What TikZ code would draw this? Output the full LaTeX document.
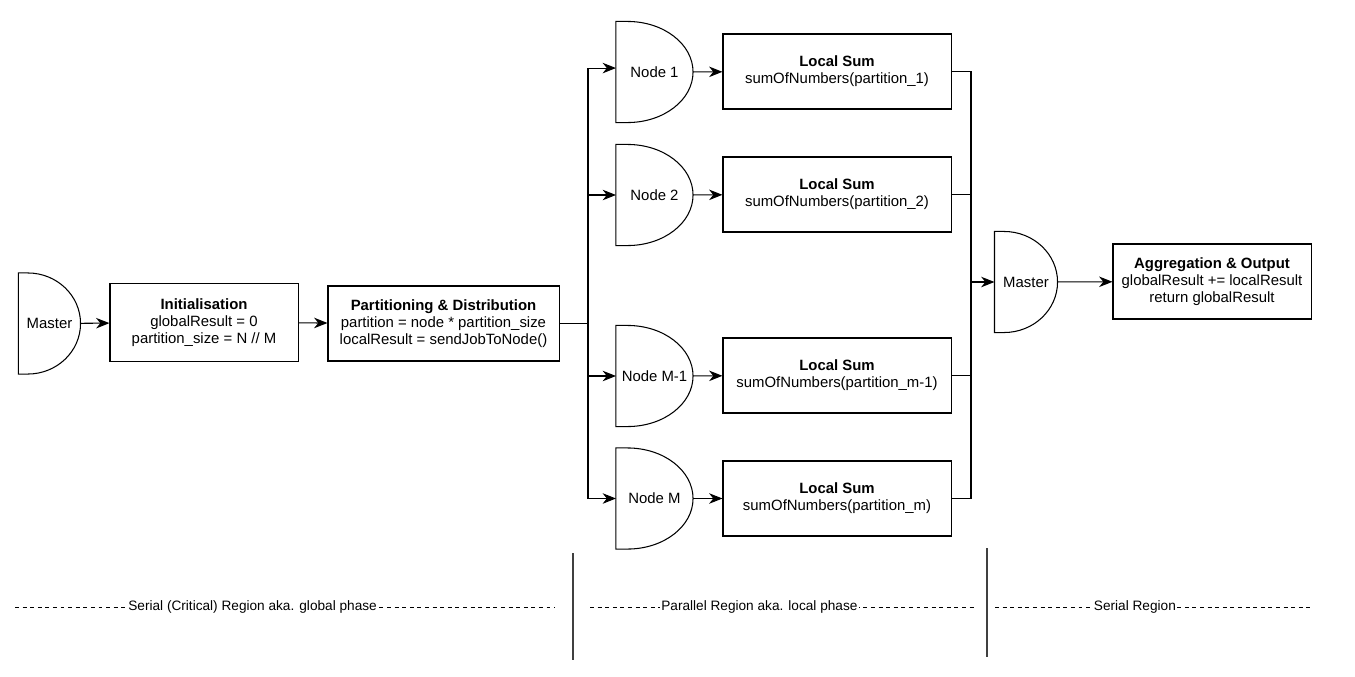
\documentclass[tikz,border=0pt]{standalone}
\usepackage{fontspec}
\setmainfont{Liberation Sans}
\usepackage{tikz}
\usetikzlibrary{calc,positioning,arrows.meta}

\begin{document}
\begin{tikzpicture}[x=0.025cm, y=-0.025cm, line width=0.75pt, font=\fontsize{10.6}{11.9}\selectfont]
\tikzstyle{gt}=[rectangle, inner sep=0pt, minimum width=1.9cm, minimum height=2.5cm]
\tikzstyle{box}=[rectangle, draw, align=center, inner sep=2pt,
                 minimum width=5.7cm, minimum height=1.875cm]
\tikzstyle{arr}=[-{Stealth[length=9.5pt,width=7.5pt,inset=3pt]}]
\tikzstyle{phase}=[dash pattern=on 2.8pt off 2.6pt, line width=0.4pt]
\tikzstyle{tag}=[pos=0.44, fill=white, inner sep=1pt, font=\fontsize{9.7}{11}\selectfont]
\tikzstyle{sep}=[line width=1pt, black!75]
\useasboundingbox (0,0) rectangle (1355,677);

% serial part
\node[gt, minimum width=1.525cm] (M) at (49.5,323.5) {Master};
\node[box, minimum width=4.7cm, minimum height=1.95cm] (I) at (204,322.5)
  {\textbf{Initialisation}\\globalResult = 0\\partition\_size = N // M};
\node[box, minimum width=5.775cm] (P) at (443.5,323.5)
  {\textbf{Partitioning \& Distribution}\\partition = node * partition\_size\\localResult = sendJobToNode()};

% workers
\node[gt] (N1) at (654.5,72) {Node 1};
\node[gt] (N2) at (654.5,195) {Node 2};
\node[gt] (N3) at (654.5,376) {Node M-1};
\node[gt] (N4) at (654.5,498.5) {Node M};
\node[box] (L1) at (837,71.5) {\textbf{Local Sum}\\sumOfNumbers(partition\_1)};
\node[box] (L2) at (837,194.5) {\textbf{Local Sum}\\sumOfNumbers(partition\_2)};
\node[box] (L3) at (837,375.5) {\textbf{Local Sum}\\sumOfNumbers(partition\_m-1)};
\node[box] (L4) at (837,498.5) {\textbf{Local Sum}\\sumOfNumbers(partition\_m)};

% aggregation
\node[gt, minimum width=1.55cm] (M2) at (1026,282) {Master};
\node[box, minimum width=4.95cm] (A) at (1212,281.5)
  {\textbf{Aggregation \& Output}\\globalResult += localResult\\return globalResult};

% gate outlines
\foreach \g in {M,N1,N2,N3,N4,M2}{
  \draw let \p1=(\g.north west), \p2=(\g.south east) in
    (\g.south west) -- (\p1) -- ++({0.15*(\x2-\x1)},0)
    arc[start angle=90, end angle=-90, x radius={0.85*(\x2-\x1)}, y radius={0.5*(\y1-\y2)}] -- cycle;
}

\coordinate (split) at (588,323.5);
\coordinate (join) at (971,282);
\foreach \i/\j in {M/I,I/P,N1/L1,N2/L2,N3/L3,N4/L4,M2/A}{\draw[arr] (\i) -- (\j);}
\draw (P.east) -- (split);
\draw[arr] (split) |- ([yshift=2.8pt]N1.west);
\foreach \j in {N2,N3,N4}{\draw[arr] (split) |- (\j.west);}
\foreach \i in {L1,L2,L3,L4}{\draw (\i.east) -| (join);}
\draw[arr] (join) -- (M2.west);

% regions
\coordinate (d1) at (573,553);
\coordinate (d2) at (573,660);
\coordinate (d3) at (987,548);
\coordinate (d4) at (987,657);
\draw[sep] (d1) -- (d2);
\draw[sep] (d3) -- (d4);
\coordinate (a1) at (15,607);
\coordinate (a2) at (555,607);
\coordinate (b1) at (590,607);
\coordinate (b2) at (975,607);
\coordinate (c1) at (995,607);
\coordinate (c2) at (1313,607);
\draw[phase] (a1) -- node[tag]{Serial (Critical) Region aka. global phase} (a2);
\draw[phase] (b1) -- node[tag]{Parallel Region aka. local phase} (b2);
\draw[phase] (c1) -- node[tag]{Serial Region} (c2);
\end{tikzpicture}
\end{document}
